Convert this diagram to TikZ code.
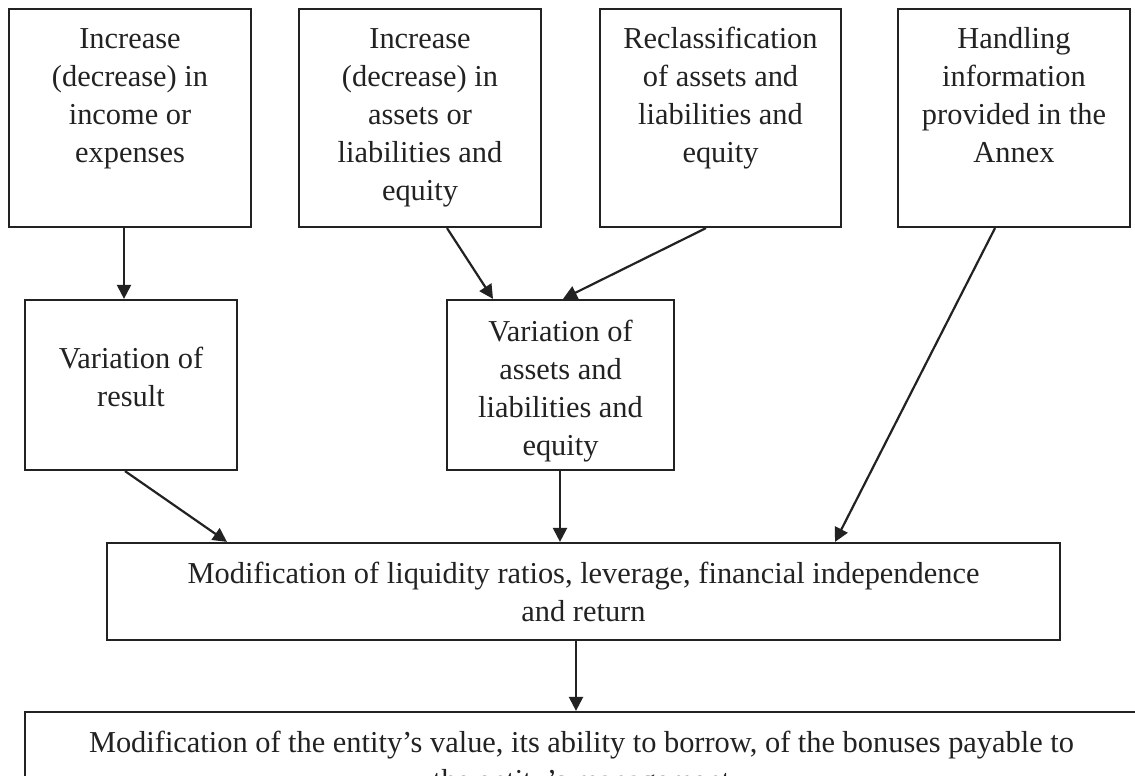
\documentclass[tikz,border=0pt]{standalone}
\usepackage{fontspec}
\setmainfont{Liberation Serif}
\usetikzlibrary{arrows.meta}
\definecolor{ink}{HTML}{222222}
\newcommand{\boxtext}[4]{\parbox[c][#2][t]{#1}{\centering\rule{0pt}{#3}#4}}
\tikzset{
  bx/.style={draw=ink, line width=1.1pt, inner sep=0pt, text=ink,
    font=\fontsize{15.2}{19}\selectfont},
  arr/.style={draw=ink, line width=1.1pt, -{Triangle[length=7pt,width=7pt]}}
}
\begin{document}
\begin{tikzpicture}[x=0.5pt,y=-0.5pt]
\useasboundingbox (0,0) rectangle (1135,776);
\clip (0,0) rectangle (1135,776);
\node[bx] (b1) at (130,118) {\boxtext{121pt}{109pt}{19.5pt}{Increase\\(decrease) in\\income or\\expenses}};
\node[bx] (b2) at (420,118) {\boxtext{121pt}{109pt}{19.5pt}{Increase\\(decrease) in\\assets or\\liabilities and\\equity}};
\node[bx] (b3) at (720.5,118) {\boxtext{120.5pt}{109pt}{19.5pt}{Reclassification\\of assets and\\liabilities and\\equity}};
\node[bx] (b4) at (1014,118) {\boxtext{116pt}{109pt}{19.5pt}{Handling\\information\\provided in the\\Annex}};
\node[bx] (b5) at (131,385) {\boxtext{106pt}{85pt}{34pt}{Variation of\\result}};
\node[bx] (b6) at (560.5,385) {\boxtext{113.5pt}{85pt}{20.5pt}{Variation of\\assets and\\liabilities and\\equity}};
\node[bx] (b7) at (583.5,591.5) {\boxtext{476.5pt}{48.5pt}{20pt}{Modification of liquidity ratios, leverage, financial independence\\and return}};
\node[bx] (b8) at (581.5,771) {\boxtext{556.5pt}{59pt}{20pt}{Modification of the entity’s value, its ability to borrow, of the bonuses payable to\\the entity’s management}};
\draw[arr] (b1.south -| 124,0) -- (b5.north -| 124,0);
\draw[arr] (b2.south -| 447,0) -- (b6.north -| 493,0);
\draw[arr] (b3.south -| 706,0) -- (b6.north -| 563,0);
\draw[arr] (b4.south -| 995,0) -- (b7.north -| 835,0);
\draw[arr] (b5.south -| 125,0) -- (b7.north -| 227,0);
\draw[arr] (b6.south -| 560,0) -- (b7.north -| 560,0);
\draw[arr] (b7.south -| 576,0) -- (b8.north -| 576,0);
\end{tikzpicture}
\end{document}
